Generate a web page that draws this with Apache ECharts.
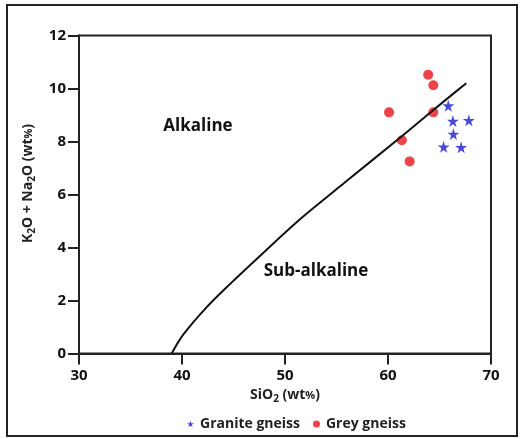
<!DOCTYPE html>
<html>
<head>
<meta charset="utf-8">
<script src="https://cdn.jsdelivr.net/npm/echarts@6/dist/echarts.min.js"></script>
<style>
  html, body { margin: 0; padding: 0; background: #fff; }
  #main { width: 523px; height: 439px; }
</style>
</head>
<body>
<div id="main"></div>
<script>
// TAS diagram: alkaline / sub-alkaline divide
var xTicks = [30, 40, 50, 60, 70];
var yTicks = [0, 2, 4, 6, 8, 10, 12];

// dividing line
var divideLine = [
  [39.0, 0], [40.1, 0.7], [42.4, 1.75], [44.6, 2.6], [47.2, 3.55],
  [51.4, 5.05], [55.8, 6.45], [61.4, 8.22], [65.6, 9.57], [67.6, 10.2]
];

var graniteGneiss = [
  [65.85, 9.35], [66.3, 8.77], [67.85, 8.8], [66.35, 8.28], [65.4, 7.8], [67.1, 7.78]
];
var greyGneiss = [
  [63.9, 10.52], [64.4, 10.12], [60.1, 9.1], [64.4, 9.1], [61.35, 8.05], [62.1, 7.25]
];

var fontFam = '"Open Sans", "DejaVu Sans", sans-serif';
var starPath = 'path://M50,0 L61,35 L98,35 L68,57 L79,91 L50,70 L21,91 L32,57 L2,35 L39,35 Z';

var nameRich = {
  b: { fontFamily: fontFam, fontWeight: 'bold', fontSize: 14, color: '#222' },
  s: { fontFamily: fontFam, fontWeight: 'bold', fontSize: 10, color: '#222', verticalAlign: 'bottom', padding: [7, 0, 0, 0] },
  p: { fontFamily: fontFam, fontWeight: 'bold', fontSize: 11, color: '#222' }
};

var chartDom = document.getElementById('main');
var myChart = echarts.init(chartDom);
var option = {
  backgroundColor: '#fff',
  animation: false,
  grid: {
    left: 79, right: 32, top: 35.5, bottom: 85.5,
    show: true, borderColor: '#222', borderWidth: 2, backgroundColor: 'transparent'
  },
  xAxis: {
    type: 'value', min: 30, max: 70, interval: 10,
    name: '{b|SiO}{s|2}{b| (wt}{p|%}{b|)}',
    nameLocation: 'middle', nameGap: 33,
    nameTextStyle: { rich: nameRich },
    splitLine: { show: false },
    axisLine: { onZero: false, lineStyle: { color: '#222', width: 2 } },
    axisTick: { show: true, length: 11, inside: false, lineStyle: { color: '#222', width: 2 } },
    axisLabel: { fontFamily: fontFam, fontWeight: 'bold', fontSize: 15, color: '#111', margin: 15,
      formatter: function (v) { return xTicks.indexOf(v) >= 0 ? v : ''; } }
  },
  yAxis: {
    type: 'value', min: 0, max: 12, interval: 2,
    name: '{b|K}{s|2}{b|O + Na}{s|2}{b|O (wt}{p|%}{b|)}',
    nameLocation: 'middle', nameGap: 42, nameRotate: 90,
    nameTextStyle: { rich: nameRich, padding: [0, 0, 0, 22] },
    splitLine: { show: false },
    axisLine: { onZero: false, lineStyle: { color: '#222', width: 2 } },
    axisTick: { show: true, length: 11, inside: false, lineStyle: { color: '#222', width: 2 } },
    axisLabel: { fontFamily: fontFam, fontWeight: 'bold', fontSize: 15, color: '#111', margin: 13,
      formatter: function (v) { return yTicks.indexOf(v) >= 0 ? v : ''; } }
  },
  legend: {
    top: 412, left: 182, itemGap: 13, itemWidth: 7, itemHeight: 7,
    textStyle: { fontFamily: fontFam, fontWeight: 'bold', fontSize: 14, color: '#222', padding: [0, 0, 0, 1] },
    data: [
      { name: 'Granite gneiss', icon: starPath },
      { name: 'Grey gneiss', icon: 'circle' }
    ]
  },
  series: [
    {
      name: 'divide', type: 'line', data: divideLine, smooth: 0.3,
      showSymbol: false, symbol: 'none',
      lineStyle: { color: '#111', width: 2 }, silent: true
    },
    {
      name: 'Granite gneiss', type: 'scatter', data: graniteGneiss,
      symbol: starPath, symbolSize: 12,
      itemStyle: { color: '#1a1ad6' }
    },
    {
      name: 'Grey gneiss', type: 'scatter', data: greyGneiss,
      symbol: 'circle', symbolSize: 10,
      itemStyle: { color: '#e8141c' }
    }
  ],
  graphic: [
    {
      type: 'rect', shape: { x: 7, y: 5, width: 510, height: 431 },
      style: { fill: 'none', stroke: '#222', lineWidth: 2 }, z: 100
    },
    {
      type: 'text', x: 198, y: 126,
      style: { text: 'Alkaline', fontFamily: fontFam, fontWeight: 'bold', fontSize: 17, fill: '#111', align: 'center', verticalAlign: 'middle' }
    },
    {
      type: 'text', x: 316, y: 271,
      style: { text: 'Sub-alkaline', fontFamily: fontFam, fontWeight: 'bold', fontSize: 17, fill: '#111', align: 'center', verticalAlign: 'middle' }
    }
  ]
};
myChart.setOption(option);
</script>
</body>
</html>
